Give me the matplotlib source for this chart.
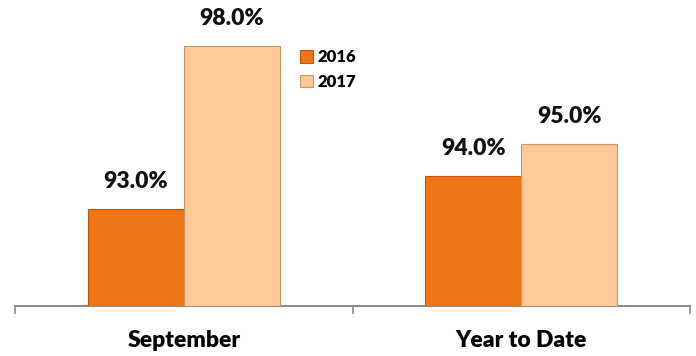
import numpy as np
import matplotlib.pyplot as plt

plt.rcParams['font.family'] = ['Lato', 'DejaVu Sans']

categories = ['September', 'Year to Date']
vals_2016 = [93.0, 94.0]
vals_2017 = [98.0, 95.0]
series_names = ['2016', '2017']

c16 = '#EE7414'
c17 = '#FDC994'

fig = plt.figure(figsize=(6.96, 3.56), dpi=100)
# axis spans x 15..690 px, baseline at y=306 px
ax = fig.add_axes([15 / 696, (356 - 306) / 356, 675 / 696, 306 / 356])

x = np.arange(len(categories))
w = 0.285
b1 = ax.bar(x - w / 2, vals_2016, w, color=c16, edgecolor='#B8570E', linewidth=0.8,
            label=series_names[0], zorder=3)
b2 = ax.bar(x + w / 2, vals_2017, w, color=c17, edgecolor='#C89868', linewidth=0.8,
            label=series_names[1], zorder=3)

for bars in (b1, b2):
    for r in bars:
        ax.annotate(f'{r.get_height():.1f}%', (r.get_x() + r.get_width() / 2, r.get_height()),
                    xytext=(0, 12), textcoords='offset points', ha='center', va='bottom',
                    fontsize=16.5, fontweight='heavy', color='#111111')

ax.set_xlim(-0.5, 1.5)
ax.set_ylim(90, 90 + 306 / 32.5)
ax.set_yticks([])
ax.set_xticks(x)
ax.set_xticklabels(categories, fontsize=16.5, fontweight='heavy')
ax.set_xticks([-0.5, 0.5, 1.5], minor=True)
ax.tick_params(axis='x', which='major', length=0, pad=17)
ax.tick_params(axis='x', which='minor', length=6, width=1.2, color='#8C8C8C')
for s in ['top', 'right', 'left']:
    ax.spines[s].set_visible(False)
ax.spines['bottom'].set_color('#8C8C8C')
ax.spines['bottom'].set_linewidth(1.5)
ax.patch.set_alpha(0)

leg = ax.legend(loc='upper left', bbox_to_anchor=(277 / 675, 1 - 41 / 306), frameon=False,
                prop={'weight': 'heavy', 'size': 12}, handlelength=0.75, handleheight=0.75,
                handletextpad=0.3, labelspacing=0.5, borderpad=0)

fig.savefig('out.png', dpi=100)
